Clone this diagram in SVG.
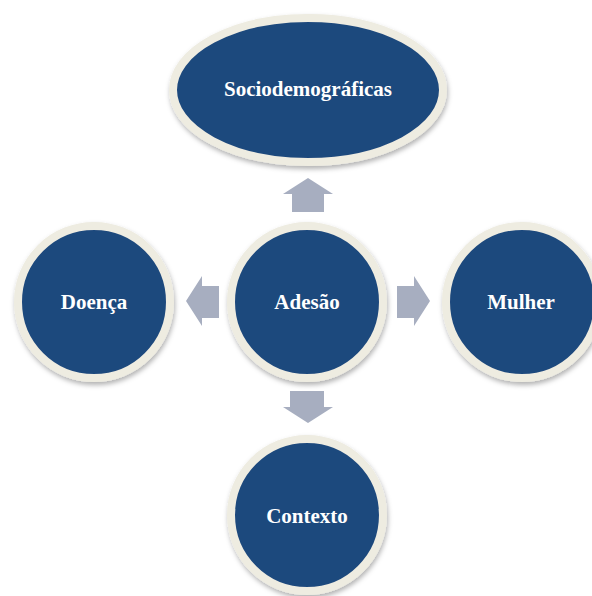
<svg xmlns="http://www.w3.org/2000/svg" width="592" height="596" viewBox="0 0 592 596">
<defs>
<filter id="sh" x="-20%" y="-20%" width="140%" height="140%">
<feDropShadow dx="1" dy="3" stdDeviation="2.5" flood-color="#000" flood-opacity="0.3"/>
</filter>
<style>
.node{fill:#1F497D;stroke:#EEECE1;stroke-width:8;filter:url(#sh)}
.lbl{font-family:"Liberation Serif","Times New Roman",serif;font-weight:bold;font-size:21px;fill:#FFFFFF;text-anchor:middle}
.arr{fill:#A7AEC0}
</style>
</defs>
<rect width="592" height="596" fill="#FFFFFF"/>
<g id="connectors">
<polygon class="arr" points="308,178 333,194 324,194 324,212 292,212 292,194 283,194"/>
<polygon class="arr" points="186,301 202,276 202,286 219,286 219,318 202,318 202,326"/>
<polygon class="arr" points="430,301 414,276 414,286 397,286 397,318 414,318 414,326"/>
<polygon class="arr" points="308,423 333,407 324,407 324,391 290,391 290,407 283,407"/>
</g>
<g id="sociodemograficas">
<ellipse class="node" cx="308" cy="90" rx="135" ry="72"/>
<text class="lbl" x="308" y="96">Sociodemográficas</text>
</g>
<g id="adesao">
<circle class="node" cx="307" cy="302" r="76"/>
<text class="lbl" x="307" y="309">Adesão</text>
</g>
<g id="doenca">
<circle class="node" cx="94" cy="302" r="76"/>
<text class="lbl" x="94" y="309">Doença</text>
</g>
<g id="mulher">
<circle class="node" cx="522" cy="302" r="76"/>
<text class="lbl" x="521" y="309">Mulher</text>
</g>
<g id="contexto">
<circle class="node" cx="307" cy="515" r="76"/>
<text class="lbl" x="307" y="523">Contexto</text>
</g>
</svg>
